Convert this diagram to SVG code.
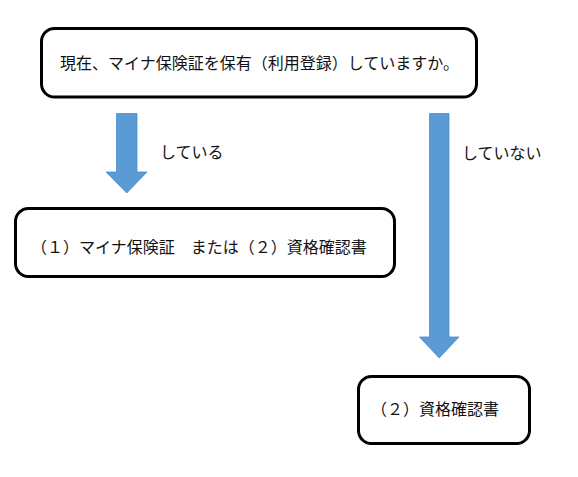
<svg xmlns="http://www.w3.org/2000/svg" width="578" height="477" viewBox="0 0 578 477">
<style>
.box{fill:#fff;stroke:#000;stroke-width:3}
.arr{fill:#5B9BD5;stroke:#4F8CC9;stroke-width:0.8}
text{font-family:"Noto Sans CJK JP","Noto Sans",sans-serif;font-size:16px;fill:#111}
</style>
<rect width="578" height="477" fill="#fff"/>
<g id="connectors">
<polygon class="arr" points="116.5,113.5 137,113.5 137,172 147,172 126.8,193 106,172 116.5,172"/>
<polygon class="arr" points="429.5,113.5 449,113.5 449,337 459,337 439.2,358 419.5,337 429.5,337"/>
<text x="160" y="158">している</text>
<text x="462" y="159">していない</text>
</g>
<g id="question">
<rect class="box" x="41.5" y="28.5" width="435" height="68.5" rx="13"/>
<text x="60" y="69">現在、マイナ保険証を保有（利用登録）していますか。</text>
</g>
<g id="has">
<rect class="box" x="15.5" y="208.5" width="379" height="68" rx="13"/>
<text x="31" y="253">（１）マイナ保険証　または（２）資格確認書</text>
</g>
<g id="hasnot">
<rect class="box" x="358.5" y="376.5" width="171" height="67" rx="13"/>
<text x="371" y="415">（２）資格確認書</text>
</g>
</svg>
